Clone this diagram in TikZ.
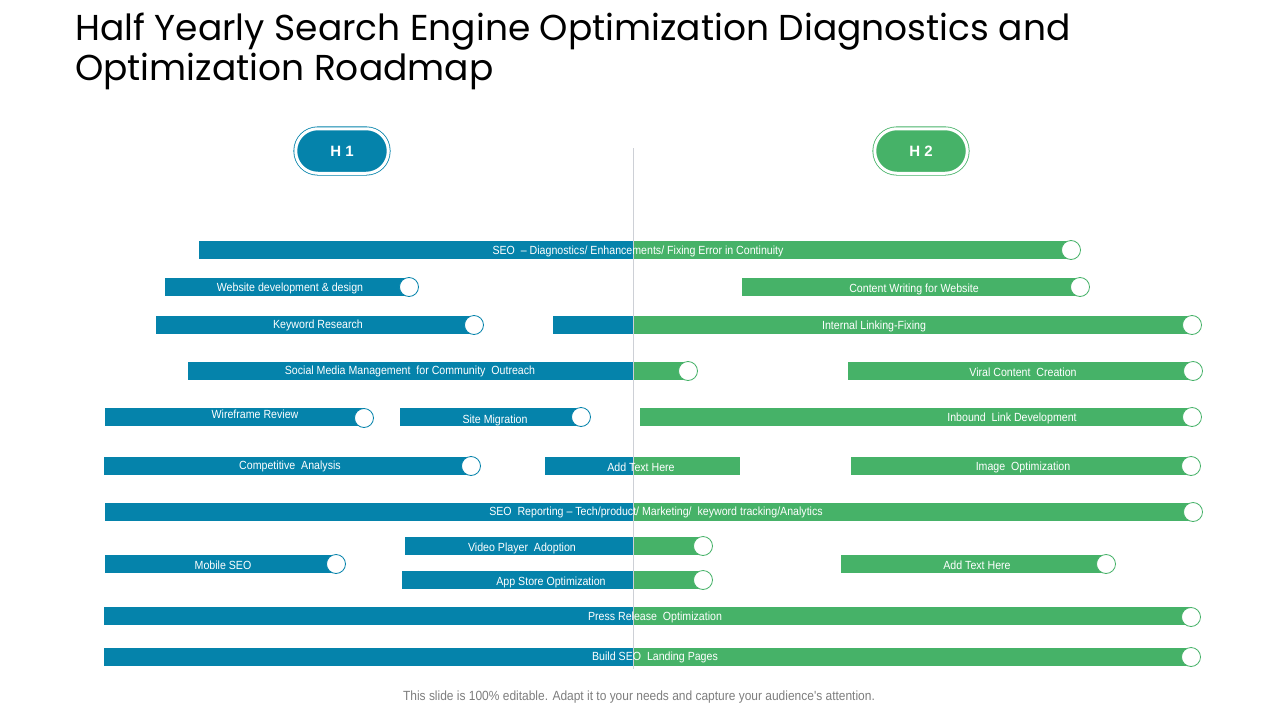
\documentclass[tikz,border=0pt]{standalone}
\usepackage{fontspec}
\setmainfont{Liberation Sans}
\newfontfamily\titlefont{Poppins}
\newfontfamily\barfont[FakeStretch=0.9]{Liberation Sans}
\definecolor{hblue}{RGB}{5,131,171}
\definecolor{hgreen}{RGB}{70,178,104}
\definecolor{midline}{RGB}{205,208,214}
\definecolor{notegray}{RGB}{125,125,125}

\tikzset{
  bluebar/.style={fill=hblue},
  greenbar/.style={fill=hgreen},
  knob/.style={circle, fill=white, draw=#1, line width=0.8pt, minimum size=19pt, inner sep=0pt},
  barlabel/.style={text=white, font=\barfont\fontsize{11.8}{13}\selectfont, inner sep=0pt, yshift=-1pt},
  halfpill/.style={fill=#1, draw=#1, double=white, double distance=3pt, line width=0.8pt,
    rounded corners=22pt, minimum width=92.5pt, minimum height=44.5pt, text=white,
    font=\bfseries\fontsize{15}{18}\selectfont},
}

\begin{document}
\begin{tikzpicture}[x=1pt, y=-1pt]
    \useasboundingbox (0,0) rectangle (1280,720);

    % Title and note
    \node[anchor=north west, align=left, inner sep=0pt, font=\titlefont\fontsize{36}{40}\selectfont] (title) at (75,13)
        {Half Yearly Search Engine Optimization Diagnostics and\\Optimization Roadmap};
    \node[text=notegray, font=\barfont\fontsize{13.3}{15}\selectfont] (note) at (639,697)
        {This slide is 100\% editable. Adapt it to your needs and capture your audience's attention.};

    % Half year headers
    \node[halfpill=hblue] (h1) at (342,151) {H 1};
    \node[halfpill=hgreen] (h2) at (921,151) {H 2};

    % Draw the bars
    \fill[bluebar] (199,241) rectangle (633,259);
    \fill[greenbar] (633,241) rectangle (1071,259);
    \fill[bluebar] (165,278) rectangle (409,296);
    \fill[greenbar] (742,278) rectangle (1080,296);
    \fill[bluebar] (156,316) rectangle (474,334);
    \fill[bluebar] (553,316) rectangle (633,334);
    \fill[greenbar] (633,316) rectangle (1192,334);
    \fill[bluebar] (188,362) rectangle (633,380);
    \fill[greenbar] (633,362) rectangle (688,380);
    \fill[greenbar] (848,362) rectangle (1193,380);
    \fill[bluebar] (105,408) rectangle (364,426);
    \fill[bluebar] (400,408) rectangle (581,426);
    \fill[greenbar] (640,408) rectangle (1192,426);
    \fill[bluebar] (104,457) rectangle (471,475);
    \fill[bluebar] (545,457) rectangle (633,475);
    \fill[greenbar] (633,457) rectangle (740,475);
    \fill[greenbar] (851,457) rectangle (1191,475);
    \fill[bluebar] (105,503) rectangle (633,521);
    \fill[greenbar] (633,503) rectangle (1193,521);
    \fill[bluebar] (405,537) rectangle (633,555);
    \fill[greenbar] (633,537) rectangle (703,555);
    \fill[bluebar] (105,555) rectangle (336,573);
    \fill[greenbar] (841,555) rectangle (1106,573);
    \fill[bluebar] (402,571) rectangle (633,589);
    \fill[greenbar] (633,571) rectangle (703,589);
    \fill[bluebar] (104,607) rectangle (633,625);
    \fill[greenbar] (633,607) rectangle (1191,625);
    \fill[bluebar] (104,648) rectangle (633,666);
    \fill[greenbar] (633,648) rectangle (1191,666);

    % Divider between the halves
    \coordinate (divtop) at (633,148);
    \coordinate (divbot) at (633,669);
    \draw[midline, line width=0.8pt] (divtop) -- (divbot);

    % Add the labels
    \node[barlabel] (diag) at (638,250) {SEO \ – Diagnostics/ Enhancements/ Fixing Error in Continuity};
    \node[barlabel] (webdev) at (290,287) {Website development \& design};
    \node[barlabel] (content) at (914,288) {Content Writing for Website};
    \node[barlabel] (keyword) at (318,324) {Keyword Research};
    \node[barlabel] (linking) at (874,325) {Internal Linking-Fixing};
    \node[barlabel] (social) at (410,370) {Social Media Management \ for Community \ Outreach};
    \node[barlabel] (viral) at (1023,371) {Viral Content \ Creation};
    \node[barlabel] (wireframe) at (255,413) {Wireframe Review};
    \node[barlabel] (migration) at (495,419) {Site Migration};
    \node[barlabel] (inbound) at (1012,417) {Inbound \ Link Development};
    \node[barlabel] (competitive) at (290,465) {Competitive \ Analysis};
    \node[barlabel] (addtexta) at (641,466) {Add Text Here};
    \node[barlabel] (image) at (1023,466) {Image \ Optimization};
    \node[barlabel] (reporting) at (656,511) {SEO \ Reporting – Tech/product/ Marketing/ \ keyword tracking/Analytics};
    \node[barlabel] (video) at (522,547) {Video Player \ Adoption};
    \node[barlabel] (mobile) at (223,564) {Mobile SEO};
    \node[barlabel] (addtextb) at (977,564) {Add Text Here};
    \node[barlabel] (appstore) at (551,581) {App Store Optimization};
    \node[barlabel] (press) at (655,616) {Press Release \ Optimization};
    \node[barlabel] (landing) at (655,656) {Build SEO \ Landing Pages};

    % Draw the knobs
    \node[knob=hgreen] (diagend) at (1071,250) {};
    \node[knob=hblue] (webdevend) at (409,287) {};
    \node[knob=hgreen] (contentend) at (1080,287) {};
    \node[knob=hblue] (keywordend) at (474,325) {};
    \node[knob=hgreen] (linkingend) at (1192,325) {};
    \node[knob=hgreen] (socialend) at (688,371) {};
    \node[knob=hgreen] (viralend) at (1193,371) {};
    \node[knob=hblue] (wireframeend) at (364,418) {};
    \node[knob=hblue] (migrationend) at (581,417) {};
    \node[knob=hgreen] (inboundend) at (1192,417) {};
    \node[knob=hblue] (competitiveend) at (471,466) {};
    \node[knob=hgreen] (imageend) at (1191,466) {};
    \node[knob=hgreen] (reportingend) at (1193,512) {};
    \node[knob=hgreen] (videoend) at (703,546) {};
    \node[knob=hblue] (mobileend) at (336,564) {};
    \node[knob=hgreen] (addtextbend) at (1106,564) {};
    \node[knob=hgreen] (appstoreend) at (703,580) {};
    \node[knob=hgreen] (pressend) at (1191,617) {};
    \node[knob=hgreen] (landingend) at (1191,657) {};
\end{tikzpicture}
\end{document}
